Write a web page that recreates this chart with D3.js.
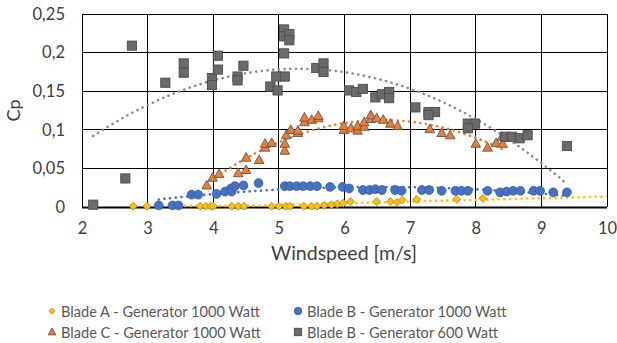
<!DOCTYPE html>
<html><head><meta charset="utf-8">
<script src="https://cdn.jsdelivr.net/npm/d3@7"></script>
<style>body{margin:0;background:#fff}svg{display:block}text{font-family:Lato,"Open Sans",sans-serif}</style>
</head><body><svg id="c" width="617" height="343"></svg>
<script>
// ---------- data ----------
const seriesNames = ["Blade A - Generator 1000 Watt","Blade B - Generator 1000 Watt","Blade C - Generator 1000 Watt","Blade B - Generator 600 Watt"];
const xTicks = [2,3,4,5,6,7,8,9,10];
const yTicks = [0,0.05,0.1,0.15,0.2,0.25];
const yTickLabels = ["0","0,05","0,1","0,15","0,2","0,25"];

const bladeA1000 = [[2.78,0.001],[2.99,0.001],[3.80,0.001],[3.89,0.001],[3.96,0.001],[4.00,0.001],[4.28,0.001],[4.38,0.001],[4.47,0.001],[4.89,0.001],[5.00,0.001],[5.11,0.001],[5.17,0.001],[5.38,0.001],[5.50,0.001],[5.58,0.001],[5.69,0.002],[5.80,0.003],[5.89,0.004],[5.98,0.005],[6.09,0.007],[6.49,0.007],[6.70,0.007],[6.80,0.006],[6.88,0.009],[7.10,0.010],[7.71,0.010],[8.11,0.011]];
const bladeB1000 = [[3.17,0.002],[3.38,0.002],[3.47,0.002],[3.67,0.016],[3.77,0.016],[4.05,0.017],[4.18,0.020],[4.27,0.024],[4.28,0.020],[4.33,0.027],[4.46,0.028],[4.69,0.031],[5.09,0.027],[5.17,0.027],[5.27,0.027],[5.37,0.027],[5.48,0.027],[5.58,0.027],[5.78,0.026],[5.97,0.026],[6.07,0.024],[6.28,0.022],[6.38,0.022],[6.47,0.023],[6.57,0.022],[6.77,0.022],[6.87,0.021],[7.18,0.022],[7.29,0.022],[7.48,0.021],[7.69,0.021],[7.78,0.021],[7.88,0.021],[8.18,0.021],[8.37,0.019],[8.47,0.020],[8.57,0.021],[8.68,0.021],[8.88,0.021],[8.98,0.021],[9.18,0.019],[9.39,0.019]];
const bladeC1000 = [[3.90,0.028],[3.99,0.038],[4.09,0.043],[4.38,0.044],[4.50,0.048],[4.50,0.064],[4.70,0.061],[4.79,0.077],[4.79,0.082],[4.89,0.083],[5.09,0.073],[5.09,0.082],[5.11,0.093],[5.18,0.100],[5.29,0.096],[5.29,0.099],[5.39,0.110],[5.39,0.116],[5.50,0.113],[5.60,0.115],[5.60,0.118],[5.99,0.100],[5.99,0.105],[6.10,0.102],[6.20,0.099],[6.20,0.105],[6.30,0.104],[6.30,0.110],[6.40,0.114],[6.40,0.119],[6.49,0.115],[6.59,0.113],[6.70,0.108],[6.81,0.105],[7.30,0.101],[7.48,0.096],[7.61,0.093],[8.00,0.082],[8.18,0.077],[8.31,0.083],[8.40,0.091],[8.41,0.082]];
const bladeB600 = [[2.17,0.003],[2.66,0.037],[2.76,0.209],[3.27,0.161],[3.55,0.186],[3.55,0.174],[3.98,0.167],[3.98,0.158],[4.07,0.196],[4.07,0.178],[4.37,0.169],[4.37,0.164],[4.46,0.183],[4.87,0.156],[4.98,0.151],[4.96,0.169],[5.09,0.169],[5.08,0.230],[5.08,0.221],[5.16,0.224],[5.16,0.216],[5.08,0.199],[5.57,0.180],[5.68,0.186],[5.68,0.175],[6.07,0.151],[6.18,0.149],[6.28,0.153],[6.47,0.142],[6.57,0.146],[6.68,0.149],[6.68,0.141],[7.08,0.129],[7.28,0.123],[7.38,0.123],[7.28,0.119],[7.88,0.108],[7.99,0.108],[7.88,0.102],[8.45,0.091],[8.55,0.091],[8.67,0.089],[8.79,0.093],[9.39,0.079]];

// trendline settings: polynomial order and forward forecast end
const trendOrder = [1,2,2,2];
const trendEnd = [10,null,null,null];

// ---------- layout ----------
const svg = d3.select("#c");
const M = {l:82, r:607, t:14, b:207};
const x = d3.scaleLinear().domain([2,10]).range([M.l,M.r]);
const y = d3.scaleLinear().domain([0,0.25]).range([M.b,M.t]);

// grid
const g = svg.append("g");
g.selectAll(".hg").data(yTicks).join("line")
  .attr("x1",M.l).attr("x2",M.r).attr("y1",d=>y(d)).attr("y2",d=>y(d))
  .attr("stroke","#000").attr("stroke-width",1).attr("shape-rendering","crispEdges");
g.selectAll(".vg").data(xTicks).join("line")
  .attr("y1",M.t).attr("y2",M.b).attr("x1",d=>x(d)).attr("x2",d=>x(d))
  .attr("stroke","#000").attr("stroke-width",1).attr("shape-rendering","crispEdges");
g.append("line").attr("x1",M.l).attr("x2",M.r).attr("y1",M.b+0.5).attr("y2",M.b+0.5).attr("stroke","#000").attr("stroke-width",2);

// axes labels
const xAxis = d3.axisBottom(x).tickValues(xTicks).tickSize(0).tickPadding(15).tickFormat(d3.format("d"));
const ax = svg.append("g").attr("transform",`translate(0,${M.b})`).call(xAxis);
ax.select(".domain").remove();
ax.selectAll("text").attr("font-size",16.5).attr("fill","#404040").style("font-family","Lato");
const yAxis = d3.axisLeft(y).tickValues(yTicks).tickSize(0).tickPadding(17).tickFormat((d,i)=>yTickLabels[i]);
const ay = svg.append("g").attr("transform",`translate(${M.l},0)`).call(yAxis);
ay.select(".domain").remove();
ay.selectAll("text").attr("font-size",16.5).attr("fill","#404040").style("font-family","Lato");

svg.append("text").attr("x",344).attr("y",260).attr("text-anchor","middle")
  .attr("font-size",19.5).attr("fill","#404040").text("Windspeed [m/s]");
svg.append("text").attr("transform",`translate(20,${(M.t+M.b)/2}) rotate(-90)`).attr("text-anchor","middle")
  .attr("font-size",18).attr("fill","#404040").text("Cp");

// ---------- trendlines (least squares polynomial) ----------
function polyfit(pts, n){
  const m=n+1, A=Array.from({length:m},()=>new Array(m+1).fill(0));
  for(const [px,py] of pts){
    for(let i=0;i<m;i++){
      for(let j=0;j<m;j++) A[i][j]+=Math.pow(px,i+j);
      A[i][m]+=py*Math.pow(px,i);
    }
  }
  for(let i=0;i<m;i++){
    let p=i; for(let k=i+1;k<m;k++) if(Math.abs(A[k][i])>Math.abs(A[p][i])) p=k;
    [A[i],A[p]]=[A[p],A[i]];
    for(let k=i+1;k<m;k++){const f=A[k][i]/A[i][i]; for(let j=i;j<=m;j++) A[k][j]-=f*A[i][j];}
  }
  const c=new Array(m).fill(0);
  for(let i=m-1;i>=0;i--){let s=A[i][m]; for(let j=i+1;j<m;j++) s-=A[i][j]*c[j]; c[i]=s/A[i][i];}
  return c;
}
const allSeries=[bladeA1000,bladeB1000,bladeC1000,bladeB600];
const trendColors=["#FFC000","#4472C4","#ED7D31","#8c8c8c"];
svg.append("clipPath").attr("id","pc").append("rect").attr("x",M.l).attr("y",M.t).attr("width",M.r-M.l).attr("height",M.b-M.t+1);
allSeries.forEach((s,k)=>{
  const c=polyfit(s,trendOrder[k]);
  const x0=d3.min(s,d=>d[0]), x1=trendEnd[k]||d3.max(s,d=>d[0]);
  const pts=d3.range(0,201).map(i=>{const xv=x0+(x1-x0)*i/200; let yv=0; c.forEach((cc,j)=>yv+=cc*Math.pow(xv,j)); return [xv,yv];})
    .filter(p=>p[1]>=-0.0005);
  svg.append("path").attr("clip-path","url(#pc)")
    .attr("d",d3.line().x(d=>x(d[0])).y(d=>y(Math.max(d[1],0.0015)))(pts))
    .attr("fill","none").attr("stroke",trendColors[k]).attr("stroke-width",2.6)
    .attr("stroke-linecap","round").attr("stroke-dasharray","0.1 5.6");
});

// ---------- markers ----------
function drawMarker(sel, k, scale){
  const s=scale||1;
  if(k===0){
    sel.append("path").attr("d",`M0,${-4*s}L${4*s},0L0,${4*s}L${-4*s},0Z`).attr("fill","#FFC000").attr("stroke","#9c8750").attr("stroke-width",0.8);
  } else if(k===1){
    sel.append("circle").attr("r",4.4*s).attr("fill","#4472C4").attr("stroke","#3a5a96").attr("stroke-width",0.8);
  } else if(k===2){
    sel.append("path").attr("d",`M0,${-5*s}L${4.8*s},${3.6*s}L${-4.8*s},${3.6*s}Z`).attr("fill","#ED7D31").attr("stroke","#595959").attr("stroke-width",0.9);
  } else {
    sel.append("rect").attr("x",-4.6*s).attr("y",-4.6*s).attr("width",9.2*s).attr("height",9.2*s).attr("fill","#6a6a6a").attr("stroke","#4d4d4d").attr("stroke-width",0.9);
  }
}
allSeries.forEach((s,k)=>{
  svg.append("g").selectAll("g").data(s).join("g")
    .attr("transform",d=>`translate(${x(d[0])},${y(d[1])})`)
    .each(function(){drawMarker(d3.select(this),k);});
});

// ---------- legend ----------
const legendPos=[[52,311],[298,311],[52,332],[298,332]];
seriesNames.forEach((n,k)=>{
  const lg=svg.append("g").attr("transform",`translate(${legendPos[k][0]},${legendPos[k][1]})`);
  drawMarker(lg,k,k===1?0.85:0.8);
  lg.append("text").attr("x",9).attr("y",5.5).attr("font-size",14.6).attr("fill","#595959").text(n);
});
</script></body></html>
